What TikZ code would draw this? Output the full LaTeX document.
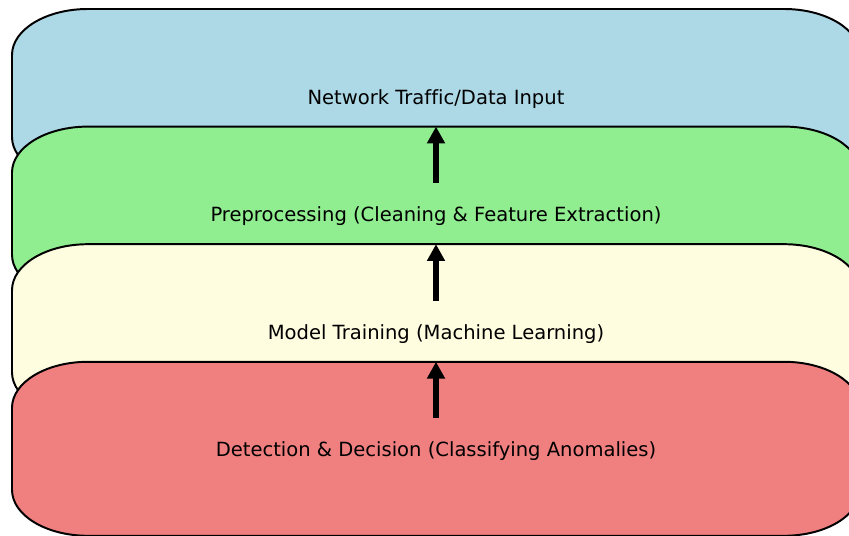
\documentclass[tikz,border=0pt]{standalone}
\usepackage{fontspec}
\setmainfont{DejaVu Sans}[Ligatures=NoCommon]
\usetikzlibrary{arrows.meta,backgrounds}

\definecolor{inputblue}{HTML}{ADD8E6}
\definecolor{prepgreen}{HTML}{90EE90}
\definecolor{trainyellow}{HTML}{FFFDE0}
\definecolor{detectred}{HTML}{F08080}

\tikzset{
	layer/.style={rectangle, minimum width=21.2cm, minimum height=4.35cm,
		inner sep=0pt, outer sep=0pt, text height=11.5pt, text depth=0pt,
		font=\fontsize{13.9}{16}\selectfont},
	layer edge/.style={draw=black, line width=1.4pt},
	flow/.style={line width=0.15cm, -{Triangle[width=0.43cm,length=0.42cm]}}
}

% rounded outline behind a layer node: node name, fill colour
\newcommand{\layershape}[2]{%
	\draw[layer edge, fill=#2] ([xshift=1.9cm]#1.north west) -- ([xshift=-1.9cm]#1.north east)
	arc[start angle=90, end angle=0, x radius=1.9cm, y radius=1.15cm]
	-- ([yshift=1.15cm]#1.south east)
	arc[start angle=0, end angle=-90, x radius=1.9cm, y radius=1.15cm]
	-- ([xshift=1.9cm]#1.south west)
	arc[start angle=270, end angle=180, x radius=1.9cm, y radius=1.15cm]
	-- ([yshift=-1.15cm]#1.north west)
	arc[start angle=180, end angle=90, x radius=1.9cm, y radius=1.15cm] -- cycle;}

\begin{document}
\begin{tikzpicture}
	\useasboundingbox (0,0) rectangle (21.225,13.4);
	
	\node[layer] (input) at (10.9,11.0) {Network Traffic/Data Input};
	\node[layer] (prep) at (10.9,8.06) {Preprocessing (Cleaning \& Feature Extraction)};
	\node[layer] (train) at (10.9,5.12) {Model Training (Machine Learning)};
	\node[layer] (detect) at (10.9,2.18) {Detection \& Decision (Classifying Anomalies)};
	
	\begin{scope}[on background layer]
	\layershape{input}{inputblue}
	\layershape{prep}{prepgreen}
	\layershape{train}{trainyellow}
	\layershape{detect}{detectred}
	\end{scope}
	
	\draw[flow] (input.south) -- (prep.north);
	\draw[flow] (prep.south) -- (train.north);
	\draw[flow] (train.south) -- (detect.north);
\end{tikzpicture}
\end{document}
